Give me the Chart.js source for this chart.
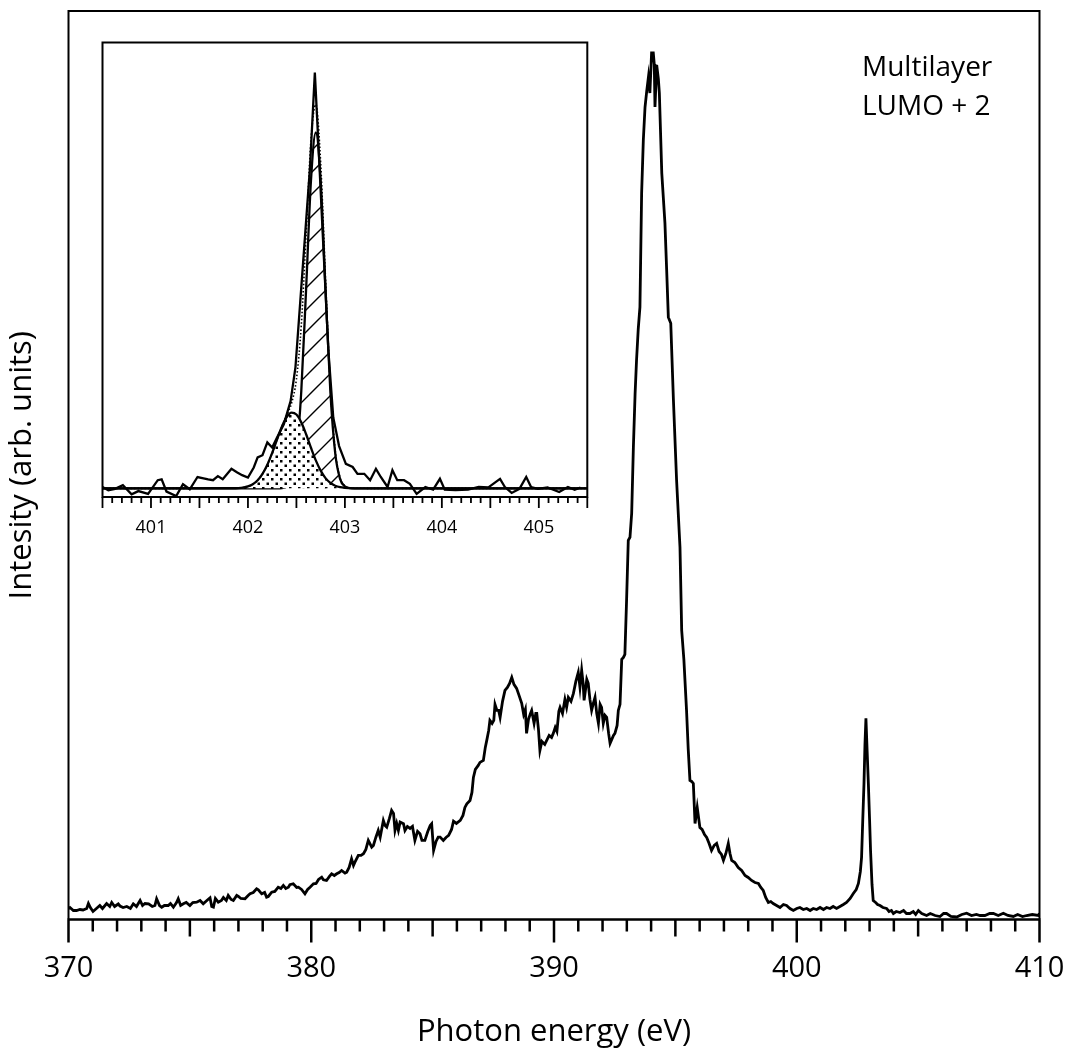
<!DOCTYPE html>
<html>
<head>
<meta charset="utf-8">
<title>Multilayer LUMO + 2</title>
<script src="https://cdn.jsdelivr.net/npm/chart.js@4.4.1/dist/chart.umd.min.js"></script>
<style>
  html, body { margin: 0; padding: 0; background: #fff; }
  #wrap { position: relative; width: 1066px; height: 1052px; }
  #wrap canvas { position: absolute; left: 0; top: 0; }
</style>
</head>
<body>
<div id="wrap">
  <canvas id="mainCanvas" width="1066" height="1052"></canvas>
  <canvas id="insetCanvas" width="1066" height="1052"></canvas>
</div>
<script>
// main spectrum, photon energy (eV) and intensity (arb. units)
var mainEnergy = [
  370.00, 370.06, 370.20, 370.33, 370.47, 370.60, 370.75, 370.82, 370.90, 371.01,
  371.15, 371.29, 371.40, 371.57, 371.70, 371.78, 371.90, 372.05, 372.12, 372.25,
  372.40, 372.55, 372.67, 372.80, 372.95, 373.05, 373.15, 373.30, 373.45, 373.56,
  373.63, 373.75, 373.84, 373.95, 374.11, 374.20, 374.32, 374.45, 374.52, 374.62,
  374.73, 374.85, 375.00, 375.12, 375.28, 375.42, 375.55, 375.70, 375.83, 375.90,
  375.97, 376.05, 376.17, 376.30, 376.38, 376.50, 376.58, 376.70, 376.79, 376.93,
  377.00, 377.10, 377.27, 377.40, 377.48, 377.61, 377.75, 377.82, 377.96, 378.08,
  378.16, 378.23, 378.37, 378.50, 378.64, 378.75, 378.85, 378.95, 379.06, 379.12,
  379.26, 379.40, 379.47, 379.60, 379.74, 379.85, 379.95, 380.09, 380.20, 380.30,
  380.43, 380.50, 380.63, 380.75, 380.84, 380.95, 381.05, 381.15, 381.25, 381.39,
  381.46, 381.56, 381.66, 381.74, 381.80, 381.94, 382.05, 382.15, 382.25, 382.35,
  382.49, 382.56, 382.66, 382.76, 382.84, 382.97, 383.04, 383.11, 383.22, 383.31,
  383.39, 383.45, 383.52, 383.59, 383.66, 383.80, 383.86, 383.96, 384.07, 384.17,
  384.27, 384.38, 384.48, 384.56, 384.68, 384.80, 384.90, 384.96, 385.04, 385.14,
  385.23, 385.31, 385.44, 385.55, 385.66, 385.78, 385.86, 385.98, 386.14, 386.25,
  386.33, 386.41, 386.54, 386.62, 386.68, 386.76, 386.88, 386.95, 387.09, 387.17,
  387.23, 387.31, 387.36, 387.45, 387.52, 387.57, 387.65, 387.72, 387.78, 387.88,
  387.98, 388.08, 388.17, 388.26, 388.35, 388.46, 388.56, 388.67, 388.75, 388.82,
  388.87, 388.95, 389.03, 389.08, 389.18, 389.25, 389.29, 389.36, 389.42, 389.50,
  389.62, 389.70, 389.80, 389.90, 389.97, 390.05, 390.12, 390.20, 390.25, 390.35,
  390.45, 390.52, 390.59, 390.70, 390.80, 390.90, 391.00, 391.07, 391.14, 391.20,
  391.24, 391.30, 391.35, 391.41, 391.48, 391.55, 391.62, 391.69, 391.76, 391.83,
  391.90, 391.96, 392.03, 392.10, 392.17, 392.25, 392.31, 392.38, 392.45, 392.51,
  392.60, 392.65, 392.72, 392.79, 392.86, 392.92, 392.99, 393.06, 393.13, 393.20,
  393.27, 393.34, 393.40, 393.47, 393.54, 393.61, 393.68, 393.75, 393.82, 393.89,
  393.95, 394.02, 394.09, 394.13, 394.16, 394.23, 394.30, 394.34, 394.44, 394.57,
  394.64, 394.71, 394.81, 394.92, 395.05, 395.19, 395.26, 395.35, 395.46, 395.53,
  395.60, 395.67, 395.74, 395.81, 395.90, 396.01, 396.10, 396.20, 396.29, 396.39,
  396.49, 396.60, 396.70, 396.80, 396.90, 396.98, 397.08, 397.18, 397.25, 397.32,
  397.45, 397.59, 397.73, 397.87, 398.00, 398.14, 398.28, 398.42, 398.52, 398.62,
  398.72, 398.83, 398.93, 399.03, 399.17, 399.31, 399.45, 399.58, 399.72, 399.86,
  400.00, 400.13, 400.27, 400.41, 400.55, 400.68, 400.82, 400.96, 401.10, 401.23,
  401.37, 401.50, 401.64, 401.78, 401.92, 402.05, 402.20, 402.33, 402.45, 402.54,
  402.62, 402.67, 402.72, 402.77, 402.81, 402.85, 402.90, 402.95, 403.00, 403.04,
  403.10, 403.15, 403.25, 403.33, 403.43, 403.55, 403.70, 403.80, 403.90, 403.98,
  404.10, 404.25, 404.40, 404.52, 404.66, 404.80, 404.90, 405.01, 405.15, 405.35,
  405.50, 405.70, 405.90, 406.05, 406.17, 406.35, 406.59, 406.80, 407.00, 407.20,
  407.40, 407.55, 407.75, 407.95, 408.10, 408.30, 408.51, 408.70, 408.92, 409.10,
  409.30, 409.47, 409.70, 409.95, 410.00
];
var mainIntensity = [
  11, 12, 9, 9, 10, 9.5, 11, 16, 12, 8,
  11, 14, 11, 16, 13, 17, 13, 15.5, 13.5, 12,
  13, 11, 15.7, 13, 19, 14, 16, 15.7, 13, 14,
  20.7, 14, 12.3, 14, 14, 16, 12.3, 17, 20.7, 14,
  15.7, 17, 14, 17, 17.3, 19, 15.7, 19, 21.7, 13,
  12.3, 21, 17.3, 19, 22, 19, 24, 20, 19, 24,
  23, 21, 20.7, 24, 25.7, 27, 30.7, 29.7, 25.7, 27,
  22.3, 23, 27.3, 28, 32.3, 31, 34, 31, 32.3, 34.7,
  35.7, 32, 32.3, 30, 25.7, 30, 32.3, 35.7, 36, 40,
  42.3, 39.7, 39, 43, 45.7, 44, 45.7, 47, 49, 46.3,
  47.3, 52, 60.7, 54, 57.3, 64, 64, 65.7, 70, 79,
  72.3, 74, 82, 89, 82.3, 99, 94, 92.3, 101, 109,
  106, 89, 96, 89, 97.3, 95.7, 89, 93, 91, 93,
  79, 88, 85.7, 79, 79, 88, 94, 95.7, 69, 78,
  82.3, 82.3, 79, 82, 84, 90, 98.3, 96, 99, 104,
  112, 115.7, 119, 127, 142, 150, 154, 157, 159, 172,
  179, 189, 199, 196, 199, 215, 209, 209, 202, 218,
  229, 232, 236, 242, 235, 231, 224, 216, 205, 210,
  186, 200, 206, 209, 196, 206, 206, 190, 169, 178,
  175, 179, 184, 182, 186, 192, 188, 208, 212, 206,
  220, 212, 222, 218, 226, 238, 247, 232, 249, 236,
  219, 230, 240, 236, 220, 209, 216, 222, 206, 196,
  215, 212, 196, 204, 202, 186, 176, 180, 184, 186,
  194, 209, 215, 260, 262, 265, 319, 379, 382, 406,
  472, 525, 559, 590, 612, 726, 779, 812, 828, 842,
  826, 866, 866, 855, 812, 854, 840, 826, 746, 696,
  650, 602, 596, 519, 439, 372, 289, 260, 209, 170,
  139, 138, 136, 96, 112, 92, 90, 85, 82, 76,
  69, 74, 76, 68, 65, 59, 66, 76, 66, 59,
  57, 52, 49, 44, 42, 39, 37, 36, 32, 29,
  22, 17, 18, 16, 14, 12, 15, 14, 11, 9,
  11, 12, 10, 11, 9, 11, 10, 12, 10, 12,
  11, 13, 11, 13, 15, 17, 21, 26, 30, 36,
  48, 62, 100, 136, 175, 201, 168, 136, 100, 69,
  35, 19, 17, 15, 14, 12, 11, 8, 9, 6,
  8, 7, 9, 6, 6, 8, 5, 9, 6, 4,
  6, 4, 3, 6, 6, 3, 2.5, 5, 6.3, 4,
  5, 4, 4, 6, 6, 4, 6.3, 4, 3, 5,
  3, 4, 5, 4, 6
];
var mainTicks = [370, 380, 390, 400, 410];

// inset: measured peak and its two-component fit
var insetEnergy = [
  400.50, 400.56, 400.63, 400.71, 400.80, 400.87, 400.97, 401.07, 401.11, 401.16,
  401.26, 401.33, 401.40, 401.48, 401.59, 401.64, 401.69, 401.74, 401.83, 401.89,
  401.94, 402.00, 402.06, 402.10, 402.15, 402.20, 402.25, 402.30, 402.37, 402.44,
  402.49, 402.54, 402.59, 402.64, 402.69, 402.73, 402.78, 402.83, 402.88, 402.94,
  403.01, 403.08, 403.13, 403.20, 403.26, 403.32, 403.37, 403.44, 403.49, 403.54,
  403.61, 403.67, 403.74, 403.83, 403.91, 403.98, 404.03, 404.14, 404.27, 404.38,
  404.48, 404.60, 404.65, 404.72, 404.80, 404.87, 404.92, 404.99, 405.09, 405.21,
  405.30, 405.37, 405.43
];
var insetIntensity = [
  2.2, 1.5, 1.8, 2.6, 0.6, 1.3, 0.7, 3.7, 3.9, 1.2,
  0.2, 2.8, 1.7, 4.4, 3.9, 3.7, 4.6, 3.9, 6.2, 5.4,
  4.8, 4.3, 6.5, 8.7, 9.2, 12.0, 10.9, 13.1, 16.0, 21.1,
  28.5, 43.1, 57.8, 72.5, 93.4, 76.2, 54.1, 32.1, 17.5, 11.2,
  7.3, 6.6, 5.1, 5.1, 3.7, 6.2, 4.4, 2.2, 5.9, 3.7,
  3.7, 2.9, 0.7, 2.2, 1.6, 4.0, 1.6, 1.5, 1.6, 2.2,
  2.1, 4.0, 2.2, 0.9, 1.8, 4.4, 2.2, 1.8, 2.1, 1.1,
  2.2, 1.6, 2.1
];
var insetTicks = [401, 402, 403, 404, 405];
var fitEnergy = [
  400.50, 401.85, 401.90, 401.95, 402.00, 402.05, 402.10, 402.15, 402.20, 402.25,
  402.30, 402.35, 402.40, 402.45, 402.50, 402.55, 402.60, 402.65, 402.70, 402.75,
  402.80, 402.85, 402.90, 402.95, 403.00, 403.05, 403.10, 405.50
];
var fitLow = [
  1.9, 1.93, 1.97, 2.08, 2.33, 2.81, 3.67, 5.07, 7.08, 9.69,
  12.62, 15.45, 17.6, 18.57, 18.15, 16.42, 13.8, 10.84, 8.06, 5.8,
  4.16, 3.1, 2.49, 2.16, 2.01, 1.95, 1.91, 1.9
];
var fitHigh = [
  1.9, 1.9, 1.9, 1.9, 1.9, 1.9, 1.9, 1.9, 1.9, 1.9,
  1.9, 1.97, 2.33, 4.0, 9.65, 23.2, 45.8, 69.6, 80.2, 69.6,
  45.8, 23.2, 9.65, 4.0, 2.33, 1.97, 1.9, 1.9
];
var fitSum = [
  1.9, 1.93, 1.97, 2.08, 2.33, 2.81, 3.67, 5.07, 7.08, 9.69,
  12.62, 15.52, 18.03, 20.67, 25.9, 37.72, 57.7, 78.54, 86.36, 73.5,
  48.06, 24.4, 10.24, 4.26, 2.44, 2.02, 1.91, 1.9
];
var fitBase = 1.9;

var FONT = "'Open Sans', 'Noto Sans', sans-serif";

function xy(xs, ys) {
    var out = [];
    for (var i in xs) {
        out.push({ x: xs[i], y: ys[i] });
    }
    return out;
}

// frame, tick marks and label on the main plot
var mainDecor = {
    id: 'mainDecor',
    afterDraw: function (chart) {
        var ctx = chart.ctx;
        var a = chart.chartArea;
        var sx = chart.scales.x;
        ctx.save();
        ctx.strokeStyle = '#000';
        ctx.lineWidth = 2;
        ctx.beginPath();
        ctx.moveTo(a.left, a.bottom);
        ctx.lineTo(a.left, a.top);
        ctx.lineTo(a.right, a.top);
        ctx.lineTo(a.right, a.bottom);
        ctx.stroke();

        ctx.lineWidth = 2.5;
        ctx.beginPath();
        ctx.moveTo(a.left - 1, a.bottom);
        ctx.lineTo(a.right + 1, a.bottom);
        for (var v = 370; v <= 410; v++) {
            var len = v % 10 == 0 ? 23 : (v % 5 == 0 ? 17 : 12);
            var px = sx.getPixelForValue(v);
            ctx.moveTo(px, a.bottom);
            ctx.lineTo(px, a.bottom + len);
        }
        ctx.stroke();

        ctx.fillStyle = '#000';
        ctx.font = '28px ' + FONT;
        ctx.textBaseline = 'alphabetic';
        ctx.fillText('Multilayer', 862, 76);
        ctx.fillText('LUMO + 2', 862, 115);
        ctx.restore();
    }
};

// box and tick marks on the inset
var insetDecor = {
    id: 'insetDecor',
    afterDraw: function (chart) {
        var ctx = chart.ctx;
        var a = chart.chartArea;
        var sx = chart.scales.x;
        ctx.save();
        ctx.strokeStyle = '#000';
        ctx.lineWidth = 2;
        ctx.strokeRect(a.left, a.top, a.right - a.left, a.bottom - a.top);
        ctx.lineWidth = 1.8;
        ctx.beginPath();
        for (var i = 0; i <= 50; i++) {
            var v = 400.5 + i * 0.1;
            var len = i % 5 == 0 ? 11 : 6;
            var px = sx.getPixelForValue(v);
            ctx.moveTo(px, a.bottom);
            ctx.lineTo(px, a.bottom + len);
        }
        ctx.stroke();
        ctx.restore();
    }
};

function makeDots(ctx) {
    var c = document.createElement('canvas');
    c.width = 9; c.height = 9;
    var g = c.getContext('2d');
    g.fillStyle = '#fff';
    g.fillRect(0, 0, 9, 9);
    g.fillStyle = '#000';
    g.fillRect(1, 1, 2.5, 2.5);
    g.fillRect(5.5, 5.5, 2.5, 2.5);
    return ctx.createPattern(c, 'repeat');
}

function makeHatch(ctx) {
    var s = 22;
    var c = document.createElement('canvas');
    c.width = s; c.height = s;
    var g = c.getContext('2d');
    g.fillStyle = '#fff';
    g.fillRect(0, 0, s, s);
    g.strokeStyle = '#000';
    g.lineWidth = 1.4;
    g.beginPath();
    g.moveTo(-2, s + 2); g.lineTo(s + 2, -2);
    g.moveTo(-2, 2); g.lineTo(2, -2);
    g.moveTo(s - 2, s + 2); g.lineTo(s + 2, s - 2);
    g.stroke();
    return ctx.createPattern(c, 'repeat');
}

function noEdgePadding(s) {
    s.paddingLeft = 0;
    s.paddingRight = 0;
}

showMain();
showInset();

function showMain()
{
    var target = document.getElementById('mainCanvas');
    new Chart(target, {
        type: 'line',
        data: {
            datasets: [
                {
                    label: 'Multilayer',
                    data: xy(mainEnergy, mainIntensity),
                    borderColor: '#000',
                    borderWidth: 2.8,
                    pointRadius: 0,
                    tension: 0,
                    fill: false
                }
            ]
        },
        options: {
            responsive: false,
            animation: false,
            layout: { padding: { top: 11, right: 26.5, left: 0, bottom: 0 } },
            plugins: { legend: { display: false }, tooltip: { enabled: false } },
            scales: {
                x: {
                    type: 'linear',
                    min: 370,
                    max: 410,
                    afterBuildTicks: function (s) {
                        s.ticks = mainTicks.map(function (v) { return { value: v }; });
                    },
                    ticks: {
                        color: '#000',
                        padding: 32,
                        maxRotation: 0,
                        font: { family: FONT, size: 29 }
                    },
                    grid: { display: false, drawTicks: false },
                    border: { display: false },
                    title: {
                        display: true,
                        text: 'Photon energy (eV)',
                        color: '#000',
                        font: { family: FONT, size: 31 },
                        padding: { top: 0, bottom: 1 }
                    },
                    afterFit: function (s) {
                        s.height = 132.5;
                        noEdgePadding(s);
                    }
                },
                y: {
                    min: 0,
                    max: 908,
                    ticks: { display: false },
                    grid: { display: false, drawTicks: false },
                    border: { display: false },
                    title: {
                        display: true,
                        text: 'Intesity (arb. units)',
                        color: '#000',
                        font: { family: FONT, size: 31 },
                        padding: { top: 4, bottom: 0 }
                    },
                    afterFit: function (s) { s.width = 68.5; }
                }
            }
        },
        plugins: [mainDecor]
    });
}

function showInset()
{
    var target = document.getElementById('insetCanvas');
    var ctx = target.getContext('2d');
    new Chart(target, {
        type: 'line',
        data: {
            datasets: [
                {
                    label: 'measured',
                    data: xy(insetEnergy, insetIntensity),
                    borderColor: '#000',
                    borderWidth: 2.3,
                    pointRadius: 0,
                    tension: 0,
                    fill: false
                },
                {
                    label: 'fit sum',
                    data: xy(fitEnergy, fitSum),
                    borderColor: '#000',
                    borderWidth: 1.6,
                    borderDash: [1.5, 2],
                    pointRadius: 0,
                    cubicInterpolationMode: 'monotone',
                    fill: false
                },
                {
                    label: 'low component',
                    data: xy(fitEnergy, fitLow),
                    borderColor: '#000',
                    borderWidth: 2.3,
                    backgroundColor: makeDots(ctx),
                    pointRadius: 0,
                    cubicInterpolationMode: 'monotone',
                    fill: { value: fitBase }
                },
                {
                    label: 'high component',
                    data: xy(fitEnergy, fitHigh),
                    borderColor: '#000',
                    borderWidth: 2.3,
                    backgroundColor: makeHatch(ctx),
                    pointRadius: 0,
                    cubicInterpolationMode: 'monotone',
                    fill: { value: fitBase }
                }
            ]
        },
        options: {
            responsive: false,
            animation: false,
            layout: { padding: { top: 42.5, right: 478.7, left: 102.5, bottom: 0 } },
            plugins: { legend: { display: false }, tooltip: { enabled: false } },
            scales: {
                x: {
                    type: 'linear',
                    min: 400.5,
                    max: 405.5,
                    afterBuildTicks: function (s) {
                        s.ticks = insetTicks.map(function (v) { return { value: v }; });
                    },
                    ticks: {
                        color: '#000',
                        padding: 20,
                        maxRotation: 0,
                        font: { family: FONT, size: 18 }
                    },
                    grid: { display: false, drawTicks: false },
                    border: { display: false },
                    afterFit: function (s) {
                        s.height = 555;
                        noEdgePadding(s);
                    }
                },
                y: {
                    display: false,
                    min: 0,
                    max: 100
                }
            }
        },
        plugins: [insetDecor]
    });
}
</script>
</body>
</html>
